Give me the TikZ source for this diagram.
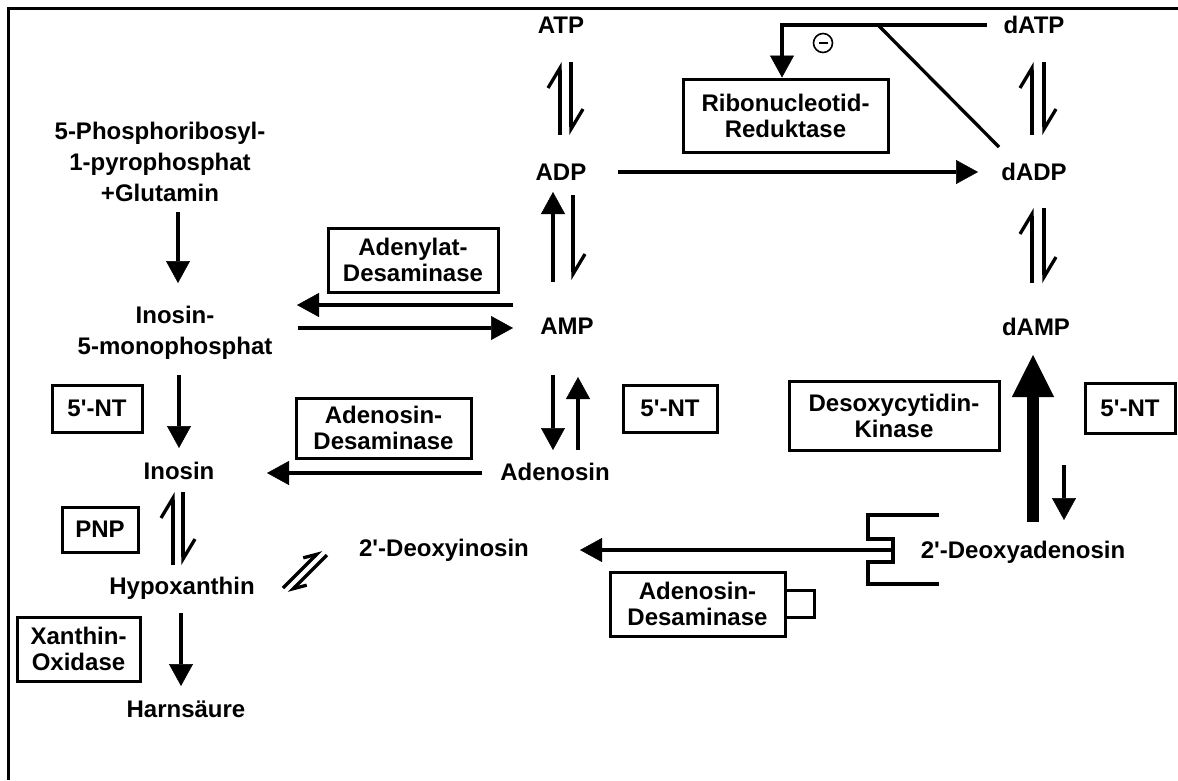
\documentclass[tikz,border=0pt]{standalone}
\usepackage{fontspec}
\setmainfont{Liberation Sans}
\usetikzlibrary{arrows.meta}
\begin{document}
\begin{tikzpicture}[x=1pt,y=-1pt,
  lw/.style={line width=3.3pt},
  lbl/.style={inner sep=0pt, text height=17pt, text depth=0pt, font=\bfseries\fontsize{24}{26}\selectfont},
  ml/.style={inner sep=0pt, align=center, font=\bfseries\fontsize{24}{31}\selectfont},
  box/.style={draw, line width=3pt, inner sep=0pt, align=center, font=\bfseries\fontsize{24}{26}\selectfont},
  arr/.style={line width=3.3pt, -{Triangle[length=22pt,width=24pt,line width=0.5pt]}},
  harp/.style={line width=3.3pt, -{Straight Barb[harpoon,length=20pt,width=24pt]}},
  sharp/.style={line width=3.3pt, -{Straight Barb[harpoon,length=12pt,width=14pt]}},
  thick arr/.style={line width=12pt, -{Triangle[length=42pt,width=42pt,line width=0.5pt]}}
]
\fill[white] (0,0) rectangle (1178,780);
\useasboundingbox (0,0) rectangle (1178,780);
\draw[line width=3pt] (8.5,780) -- (8.5,8.5) -- (1178,8.5);

% metabolites
\node[lbl] (ATP) at (561,25) {ATP};
\node[lbl] (dATP) at (1034,25) {dATP};
\node[lbl] (ADP) at (561,172) {ADP};
\node[lbl] (dADP) at (1034,172) {dADP};
\node[lbl] (AMP) at (567,326) {AMP};
\node[lbl] (dAMP) at (1036,327) {dAMP};
\node[lbl] (Ado) at (555,472) {Adenosin};
\node[lbl] (Ino) at (179,471) {Inosin};
\node[lbl] (Hyp) at (182,586) {Hypoxanthin};
\node[lbl] (Hs) at (186,709) {Harnsäure};
\node[lbl] (dIno) at (444,548) {2\textquotesingle-Deoxyinosin};
\node[lbl] (dAdo) at (1023,550) {2\textquotesingle-Deoxyadenosin};
\node[ml] (prpp) at (160,162) {5-Phosphoribosyl-\\1-pyrophosphat\\+Glutamin};
\node[ml] (imp) at (175,333) {Inosin-\\5-monophosphat};

% enzymes
\node[box, minimum width=205pt, minimum height=73pt] (rnr) at (785.5,115.5) {Ribonucleotid-\\Reduktase};
\node[box, minimum width=170pt, minimum height=64pt] (adda) at (413,260) {Adenylat-\\Desaminase};
\node[box, minimum width=90pt, minimum height=47pt] (ntA) at (97,408.5) {5\textquotesingle-NT};
\node[box, minimum width=94pt, minimum height=47pt] (ntB) at (670,408.5) {5\textquotesingle-NT};
\node[box, minimum width=90pt, minimum height=50pt] (ntC) at (1130,408) {5\textquotesingle-NT};
\node[box, minimum width=175pt, minimum height=60pt] (adaA) at (383.5,428) {Adenosin-\\Desaminase};
\node[box, minimum width=175pt, minimum height=64pt] (adaB) at (697.5,604) {Adenosin-\\Desaminase};
\node[box, minimum width=76pt, minimum height=45pt] (pnp) at (100,529.5) {PNP};
\node[box, minimum width=123pt, minimum height=64pt] (xo) at (78.5,649) {Xanthin-\\Oxidase};
\node[box, minimum width=210pt, minimum height=69pt] (dck) at (894,415.5) {Desoxycytidin-\\Kinase};
\node[circle, draw, line width=1.6pt, minimum size=19pt, inner sep=0pt] (inh) at (823,43) {\rule{9pt}{1.6pt}};

% connectors
\draw[arr] ([shift={(18,50)}]prpp.center) -- ([shift={(3,-50)}]imp.center);
\draw[arr] ([shift={(4,42)}]imp.center) -- ([shift={(0,-23)}]Ino.center);

\draw[harp] ([shift={(-1,-37)}]ADP.center) -- ([shift={(-1,37)}]ATP.center);
\draw[harp] ([shift={(10,37)}]ATP.center) -- ([shift={(10,-37)}]ADP.center);
\draw[arr] ([shift={(57,0)}]ADP.center) -- ([shift={(-56,0)}]dADP.center);

\draw[arr] ([shift={(-47,0)}]dATP.center) -| ([shift={(-3.5,-38)}]rnr.center);
\draw[lw] ([shift={(-156,0)}]dATP.center) -- ([shift={(-35,-25)}]dADP.center);

\draw[harp] ([shift={(-2,-37)}]dADP.center) -- ([shift={(-2,37)}]dATP.center);
\draw[harp] ([shift={(10,37)}]dATP.center) -- ([shift={(10,-37)}]dADP.center);
\draw[harp] ([shift={(-4,-44)}]dAMP.center) -- ([shift={(-2,36)}]dADP.center);
\draw[harp] ([shift={(10,36)}]dADP.center) -- ([shift={(8,-44)}]dAMP.center);

\draw[arr] ([shift={(-14,-44)}]AMP.center) -- ([shift={(-8,20)}]ADP.center);
\draw[harp] ([shift={(12,23)}]ADP.center) -- ([shift={(6,-46)}]AMP.center);

\draw[arr] ([shift={(-14,49)}]AMP.center) -- ([shift={(-2,-22)}]Ado.center);
\draw[arr] ([shift={(23,-22)}]Ado.center) -- ([shift={(11,51)}]AMP.center);

\draw[arr] ([shift={(-54,-21)}]AMP.center) -- ([shift={(122,-28)}]imp.center);
\draw[arr] ([shift={(123,-5)}]imp.center) -- ([shift={(-54,2)}]AMP.center);

\draw[arr] ([shift={(-73,1)}]Ado.center) -- ([shift={(88,2)}]Ino.center);

\draw[harp] ([shift={(-9,-21)}]Hyp.center) -- ([shift={(-6,21)}]Ino.center);
\draw[harp] ([shift={(4,21)}]Ino.center) -- ([shift={(1,-21)}]Hyp.center);
\draw[arr] ([shift={(-1,27)}]Hyp.center) -- ([shift={(-5,-23)}]Hs.center);

\draw[sharp] ([shift={(101,2)}]Hyp.center) -- ([shift={(-123,2)}]dIno.center);
\draw[sharp] ([shift={(-117,7)}]dIno.center) -- ([shift={(107,7)}]Hyp.center);

\draw[arr] ([shift={(-130,0)}]dAdo.center) -- ([shift={(136,2)}]dIno.center);
\draw[thick arr] ([shift={(10,-28)}]dAdo.center) -- ([shift={(-3,28)}]dAMP.center);
\draw[arr] ([shift={(28,138)}]dAMP.center) -- ([shift={(41,-30)}]dAdo.center);

% bracket at 2'-Deoxyadenosin and tab at Adenosin-Desaminase
\draw[lw] ([shift={(-84,-35)}]dAdo.center) -- ++(-71,0) -- ++(0,24) -- ++(25,0) -- ++(0,23) -- ++(-25,0) -- ++(0,22) -- ++(71,0);
\draw[line width=3pt] ([shift={(0,-14)}]adaB.east) -- ++(28,0) -- ++(0,27) -- ++(-28,0);
\end{tikzpicture}
\end{document}
